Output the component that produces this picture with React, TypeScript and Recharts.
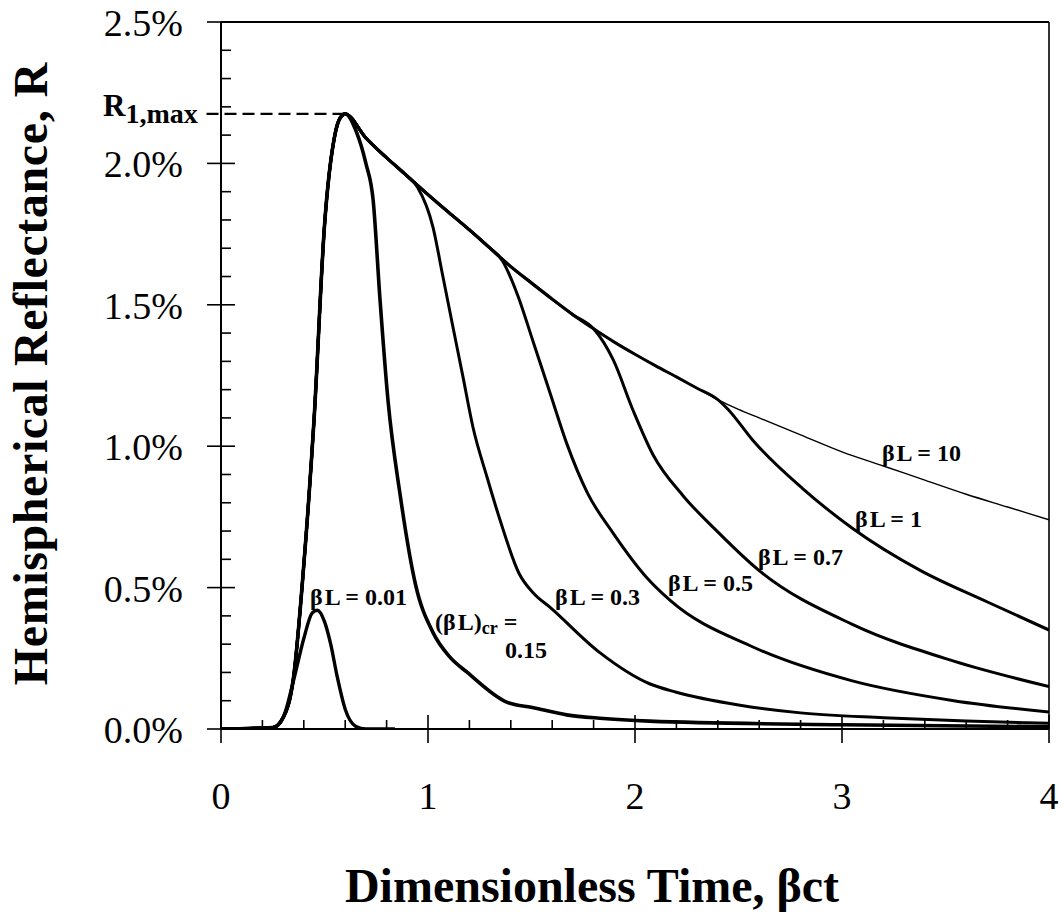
import React from "react";
import {
  LineChart,
  Line,
  XAxis,
  YAxis,
  ReferenceLine,
  ReferenceDot,
  Label,
} from "recharts";

const FONT = "'Liberation Serif', 'Times New Roman', Times, serif";

// tick positions
const xTicks = [0, 0.2, 0.4, 0.6, 0.8, 1, 1.2, 1.4, 1.6, 1.8, 2, 2.2, 2.4, 2.6, 2.8, 3, 3.2, 3.4, 3.6, 3.8, 4];
const yTicks = [0, 0.1, 0.2, 0.3, 0.4, 0.5, 0.6, 0.7, 0.8, 0.9, 1, 1.1, 1.2, 1.3, 1.4, 1.5, 1.6, 1.7, 1.8, 1.9, 2, 2.1, 2.2, 2.3, 2.4, 2.5];

// rising edge, shared by all curves (R in %)
const riseX = [0, 0.25, 0.3, 0.35, 0.4, 0.45, 0.5, 0.55, 0.575];
const riseR = [0, 0.005, 0.04, 0.18, 0.58, 1.1, 1.78, 2.1, 2.16];

// envelope = βL = 10
const envX = [0.6, 0.7, 0.8, 0.9, 1.0, 1.1, 1.2, 1.3, 1.4, 1.5, 1.6, 1.7, 1.8, 1.9, 2.0, 2.1, 2.2, 2.3, 2.4, 2.5, 2.6, 2.8, 3.0, 3.2, 3.4, 3.6, 3.8, 4.0];
const envR = [2.175, 2.09, 2.02, 1.955, 1.89, 1.827, 1.765, 1.7, 1.635, 1.577, 1.52, 1.465, 1.415, 1.368, 1.325, 1.284, 1.245, 1.205, 1.165, 1.13, 1.1, 1.04, 0.98, 0.93, 0.88, 0.83, 0.785, 0.74];

// tails after each curve leaves the envelope
const tail001X = [0.35, 0.4, 0.44, 0.465, 0.5, 0.53, 0.56, 0.6, 0.65, 0.7, 0.84];
const tail001R = [0.17, 0.32, 0.41, 0.42, 0.38, 0.3, 0.19, 0.07, 0.01, 0, 0];

const tail015X = [0.6, 0.655, 0.7, 0.735, 0.768, 0.807, 0.865, 0.94, 1.025, 1.105, 1.19, 1.38, 1.51, 1.67, 1.83, 2.07, 3.0, 4.0];
const tail015R = [2.175, 2.11, 2.0, 1.87, 1.52, 1.16, 0.83, 0.51, 0.34, 0.255, 0.2, 0.095, 0.075, 0.05, 0.038, 0.028, 0.015, 0.008];

const tail03X = [0.95, 1.024, 1.072, 1.121, 1.169, 1.217, 1.285, 1.348, 1.44, 1.51, 1.59, 1.83, 2.07, 2.2, 2.5, 2.8, 3.2, 3.6, 4.0];
const tail03R = [1.915, 1.775, 1.6, 1.42, 1.245, 1.068, 0.891, 0.739, 0.55, 0.48, 0.43, 0.27, 0.16, 0.13, 0.085, 0.057, 0.04, 0.028, 0.02];

const tail05X = [1.36, 1.43, 1.51, 1.59, 1.67, 1.77, 1.895, 2.055, 2.17, 2.57, 3.05, 3.54, 4.0];
const tail05R = [1.655, 1.54, 1.365, 1.187, 1.01, 0.835, 0.692, 0.537, 0.455, 0.29, 0.17, 0.1, 0.06];

const tail07X = [1.895, 1.99, 2.087, 2.232, 2.39, 2.6, 3.05, 3.54, 4.0];
const tail07R = [1.305, 1.128, 0.97, 0.825, 0.704, 0.56, 0.37, 0.24, 0.15];

const tail1X = [2.45, 2.57, 2.81, 3.05, 3.38, 3.7, 4.0];
const tail1R = [1.13, 1.02, 0.85, 0.71, 0.56, 0.45, 0.35];

const R1MAX = 2.175;
const PEAK_T = 0.6;

// curve annotations: text start / baseline in (t, R)
const annotations = [
  { key: "10", t: 3.193, r: 0.948, main: "L = 10" },
  { key: "1", t: 3.063, r: 0.714, main: "L = 1" },
  { key: "07", t: 2.594, r: 0.58, main: "L = 0.7" },
  { key: "05", t: 2.159, r: 0.488, main: "L = 0.5" },
  { key: "03", t: 1.614, r: 0.438, main: "L = 0.3" },
  { key: "001", t: 0.43, r: 0.438, main: "L = 0.01" },
];

const zip = (xs: number[], ys: number[]) => xs.map((x, i) => ({ x, r: ys[i] }));
const upTo = (pts: { x: number; r: number }[], lim: number) => pts.filter((p) => p.x <= lim);

const rise = zip(riseX, riseR);
const env = zip(envX, envR);

const curve10 = [...rise, ...env];
const curve1 = [...rise, ...upTo(env, 2.4), ...zip(tail1X, tail1R)];
const curve07 = [...rise, ...upTo(env, 1.8), ...zip(tail07X, tail07R)];
const curve05 = [...rise, ...upTo(env, 1.3), ...zip(tail05X, tail05R)];
const curve03 = [...rise, ...upTo(env, 0.9), ...zip(tail03X, tail03R)];
const curve015 = [...rise, ...zip(tail015X, tail015R)];
const curve001 = [...upTo(rise, 0.3), ...zip(tail001X, tail001R)];

const isMajor = (v: number, step: number) => Math.abs(v / step - Math.round(v / step)) < 1e-6;

const XTick = (props: any) => {
  const { x, y, payload } = props;
  const v = payload.value;
  const major = isMajor(v, 1);
  return (
    <g>
      <line x1={x} x2={x} y1={major ? y - 14 : y - 9} y2={major ? y + 14 : y} stroke="#000" strokeWidth={1.6} />
      {major && (
        <text x={x} y={y + 80} textAnchor="middle" fontSize={38} fontFamily={FONT} fill="#000">
          {v}
        </text>
      )}
    </g>
  );
};

const YTick = (props: any) => {
  const { x, y, payload } = props;
  const v = payload.value;
  const major = isMajor(v, 0.5);
  return (
    <g>
      <line x1={major ? x - 14 : x} x2={major ? x + 14 : x + 10} y1={y} y2={y} stroke="#000" strokeWidth={1.6} />
      {major && (
        <text x={x - 38} y={y + 14} textAnchor="end" fontSize={38} fontFamily={FONT} fill="#000">
          {v.toFixed(1) + "%"}
        </text>
      )}
    </g>
  );
};

const Ann = ({ cx, cy, main }: any) => (
  <text x={cx} y={cy} fontSize={24} fontWeight="bold" fontFamily={FONT} fill="#000">
    <tspan>β</tspan>
    <tspan dx={2}>{main}</tspan>
  </text>
);

const CritAnn = ({ cx, cy }: any) => (
  <g>
    <text x={cx} y={cy} fontSize={24} fontWeight="bold" fontFamily={FONT} fill="#000">
      <tspan>(β</tspan>
      <tspan dx={2}>L)</tspan>
      <tspan fontSize={18} dy={4}>cr</tspan>
      <tspan dy={-4}> =</tspan>
    </text>
    <text x={cx + 70} y={cy + 28} fontSize={24} fontWeight="bold" fontFamily={FONT} fill="#000">
      0.15
    </text>
  </g>
);

const R1Label = ({ cx, cy }: any) => (
  <text x={cx} y={cy} fontWeight="bold" fontFamily={FONT} fill="#000">
    <tspan fontSize={31}>R</tspan>
    <tspan fontSize={28} dy={7}>1,max</tspan>
  </text>
);

const curves = [
  { key: "b10", data: curve10, width: 1.4 },
  { key: "b1", data: curve1, width: 3 },
  { key: "b07", data: curve07, width: 3 },
  { key: "b05", data: curve05, width: 3 },
  { key: "b03", data: curve03, width: 3 },
  { key: "b015", data: curve015, width: 3.6 },
  { key: "b001", data: curve001, width: 3.4 },
];

export default function App() {
  return (
    <div style={{ position: "absolute", left: 0, top: 0, width: 1064, height: 915 }}>
      <LineChart width={1064} height={915} margin={{ top: 22, right: 15, left: 0, bottom: 0 }}>
        <XAxis
          type="number"
          dataKey="x"
          domain={[0, 4]}
          ticks={xTicks}
          interval={0}
          height={186}
          tickSize={0}
          tickMargin={0}
          tick={<XTick />}
          tickLine={false}
          axisLine={{ stroke: "#000", strokeWidth: 2 }}
          allowDataOverflow
        >
          <Label
            content={(p: any) => {
              const vb = p.viewBox;
              return (
                <text
                  x={vb.x + vb.width / 2 - 43}
                  y={vb.y + 173}
                  textAnchor="middle"
                  fontSize={48}
                  fontWeight="bold"
                  fontFamily={FONT}
                  fill="#000"
                >
                  Dimensionless Time, βct
                </text>
              );
            }}
          />
        </XAxis>
        <YAxis
          type="number"
          domain={[0, 2.5]}
          ticks={yTicks}
          interval={0}
          width={221}
          tickSize={0}
          tickMargin={0}
          tick={<YTick />}
          tickLine={false}
          axisLine={{ stroke: "#000", strokeWidth: 2 }}
          allowDataOverflow
        >
          <Label
            content={(p: any) => {
              const vb = p.viewBox;
              const cx = vb.x + 47;
              const cy = vb.y + vb.height / 2 - 2;
              return (
                <text
                  x={cx}
                  y={cy}
                  transform={`rotate(-90, ${cx}, ${cy})`}
                  textAnchor="middle"
                  fontSize={48}
                  letterSpacing={0.6}
                  fontWeight="bold"
                  fontFamily={FONT}
                  fill="#000"
                >
                  Hemispherical Reflectance, R
                </text>
              );
            }}
          />
        </YAxis>
        <ReferenceLine y={2.5} stroke="#000" strokeWidth={2} />
        <ReferenceLine x={4} stroke="#000" strokeWidth={1.6} />
        <ReferenceLine
          segment={[
            { x: -0.07, y: R1MAX },
            { x: PEAK_T, y: R1MAX },
          ]}
          stroke="#000"
          strokeWidth={2.2}
          strokeDasharray="12 6"
          ifOverflow="visible"
        />
        {curves.map((c) => (
          <Line
            key={c.key}
            data={c.data}
            dataKey="r"
            type="monotone"
            stroke="#000"
            strokeWidth={c.width}
            dot={false}
            activeDot={false}
            isAnimationActive={false}
          />
        ))}
        {annotations.map((a) => (
          <ReferenceDot
            key={a.key}
            x={a.t}
            y={a.r}
            r={0}
            ifOverflow="visible"
            shape={(p: any) => <Ann cx={p.cx} cy={p.cy} main={a.main} />}
          />
        ))}
        <ReferenceDot x={1.034} y={0.35} r={0} ifOverflow="visible" shape={(p: any) => <CritAnn cx={p.cx} cy={p.cy} />} />
        <ReferenceDot x={-0.57} y={2.168} r={0} ifOverflow="visible" shape={(p: any) => <R1Label cx={p.cx} cy={p.cy} />} />
      </LineChart>
    </div>
  );
}
